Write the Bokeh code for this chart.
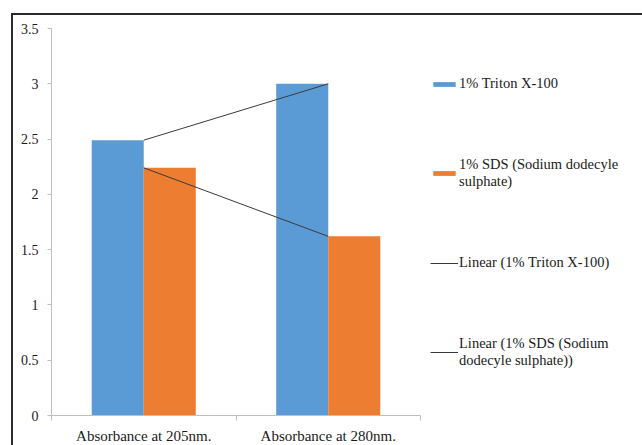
import numpy as np
from bokeh.plotting import figure
from bokeh.models import FixedTicker, Legend, LegendItem, LinearAxis, Range1d
from bokeh.embed import file_html
from bokeh.resources import INLINE

# Absorbance readings for the two detergent treatments
categories = ["Absorbance at 205nm.", "Absorbance at 280nm."]
triton = [2.49, 3.0]
sds = [2.24, 1.62]
triton_name = "1% Triton X-100"
sds_name = "1% SDS (Sodium dodecyle\nsulphate)"
triton_trend_name = "Linear (1% Triton X-100)"
sds_trend_name = "Linear (1% SDS (Sodium\ndodecyle sulphate))"
y_ticks = [0, 0.5, 1, 1.5, 2, 2.5, 3, 3.5]
y_tick_labels = ["0", "0.5", "1", "1.5", "2", "2.5", "3", "3.5"]

BLUE = "#5B9BD5"
ORANGE = "#ED7D31"
AXIS_GREY = "#bfbfbf"
TEXT = "#1a1a1a"
FONT = "Liberation Serif"

centers = np.arange(len(categories)) + 0.5
bar_w = 0.282
half = bar_w / 2

p = figure(
    frame_width=369, frame_height=387,
    x_range=Range1d(0, len(categories)), y_range=Range1d(0, 3.5),
    x_axis_type=None,
    output_backend="svg", toolbar_location=None,
    min_border_left=38, min_border_right=214,
    min_border_top=13, min_border_bottom=27,
    outline_line_color=None,
    background_fill_color="white", border_fill_color="white",
    margin=(13, 0, 0, 11),
    styles={"border-left": "2px solid #2b2b2b", "border-top": "2px solid #2b2b2b",
            "border-right": "none", "border-bottom": "none"},
)

r_triton = p.vbar(x=centers - half, top=triton, width=bar_w, fill_color=BLUE, line_color=None)
r_sds = p.vbar(x=centers + half, top=sds, width=bar_w, fill_color=ORANGE, line_color=None)

# linear trendlines fitted to each series
fit_t = np.polyval(np.polyfit(centers, triton, 1), centers)
fit_s = np.polyval(np.polyfit(centers, sds, 1), centers)
r_tt = p.line(centers, fit_t, line_color="#3a3a3a", line_width=1)
r_ts = p.line(centers, fit_s, line_color="#3a3a3a", line_width=1)

# y axis
p.ygrid.grid_line_color = None
ya = p.yaxis[0]
ya.ticker = FixedTicker(ticks=y_ticks, minor_ticks=[])
ya.major_label_overrides = {t: l for t, l in zip(y_ticks, y_tick_labels)}
ya.axis_line_color = AXIS_GREY
ya.major_tick_line_color = AXIS_GREY
ya.major_tick_out = 4
ya.major_tick_in = 0
ya.major_label_standoff = 9
ya.major_label_text_font = FONT
ya.major_label_text_font_size = "14px"
ya.major_label_text_color = TEXT

# x axis: category names centred, tick marks on category boundaries
xa = LinearAxis(
    ticker=FixedTicker(ticks=list(centers), minor_ticks=list(range(len(categories) + 1))),
    major_label_overrides={float(c): name for c, name in zip(centers, categories)},
    axis_line_color=AXIS_GREY,
    major_tick_out=0, major_tick_in=0,
    minor_tick_line_color=AXIS_GREY, minor_tick_out=5, minor_tick_in=0,
    major_label_standoff=7,
    major_label_text_font=FONT, major_label_text_font_size="15px",
    major_label_text_color=TEXT,
)
p.add_layout(xa, "below")

legend = Legend(
    items=[
        LegendItem(label=triton_name, renderers=[r_triton]),
        LegendItem(label=sds_name, renderers=[r_sds]),
        LegendItem(label=triton_trend_name, renderers=[r_tt]),
        LegendItem(label=sds_trend_name, renderers=[r_ts]),
    ],
    location=(10, 46),
    glyph_width=28, glyph_height=6,
    label_standoff=1, label_height=0,
    padding=0, margin=0, spacing=64,
    border_line_color=None, background_fill_alpha=0,
    label_text_font=FONT, label_text_font_size="14.5px",
    label_text_color=TEXT,
)
p.add_layout(legend, "right")

open("out.html", "w").write(file_html(p, INLINE))
